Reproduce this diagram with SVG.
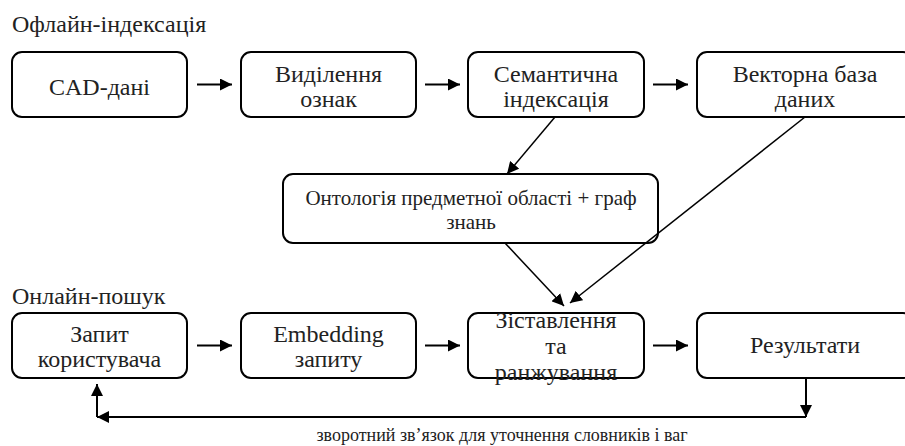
<svg xmlns="http://www.w3.org/2000/svg" width="905" height="446" viewBox="0 0 905 446">
<style>
  .box { fill: #fff; stroke: #000; stroke-width: 2; }
  .t { font-family: "Liberation Serif", "Times New Roman", serif; font-size: 24px; fill: #222; text-anchor: middle; }
  .h { font-family: "Liberation Serif", "Times New Roman", serif; font-size: 24px; fill: #222; }
  .o { font-family: "Liberation Serif", "Times New Roman", serif; font-size: 21px; fill: #222; text-anchor: middle; }
  .lbl { font-family: "Liberation Serif", "Times New Roman", serif; font-size: 18px; fill: #222; text-anchor: middle; }
  .c { stroke: #000; stroke-width: 2; fill: none; marker-end: url(#ah); }
  .d { stroke: #000; stroke-width: 1.5; fill: none; marker-end: url(#ah); }
</style>
<defs>
  <marker id="ah" viewBox="0 0 12 12" refX="12" refY="6" markerWidth="12" markerHeight="12" markerUnits="userSpaceOnUse" orient="auto">
    <path d="M0,0 L12,6 L0,12 Z" fill="#000"/>
  </marker>
</defs>
<rect width="905" height="446" fill="#fff"/>
<text class="h" x="12" y="32">Офлайн-індексація</text>
<text class="h" x="12" y="304">Онлайн-пошук</text>

<g id="cad">
  <rect class="box" x="12" y="52" width="175" height="65" rx="10"/>
  <text class="t" x="99.5" y="95">CAD-дані</text>
</g>
<g id="features">
  <rect class="box" x="241" y="52" width="175" height="65" rx="10"/>
  <text class="t" x="328.5" y="82">Виділення</text>
  <text class="t" x="328.5" y="107">ознак</text>
</g>
<g id="semantic">
  <rect class="box" x="468" y="52" width="176" height="65" rx="10"/>
  <text class="t" x="556" y="82">Семантична</text>
  <text class="t" x="556" y="107">індексація</text>
</g>
<g id="vectordb">
  <rect class="box" x="697" y="52" width="216" height="65" rx="10"/>
  <text class="t" x="805" y="82">Векторна база</text>
  <text class="t" x="805" y="107">даних</text>
</g>
<g id="ontology">
  <rect class="box" x="283" y="174" width="375" height="69" rx="10"/>
  <text class="o" x="471" y="205">Онтологія предметної області + граф</text>
  <text class="o" x="471" y="229">знань</text>
</g>
<g id="query">
  <rect class="box" x="12" y="313" width="175" height="65" rx="10"/>
  <text class="t" x="99.5" y="342">Запит</text>
  <text class="t" x="99.5" y="367">користувача</text>
</g>
<g id="embedding">
  <rect class="box" x="241" y="313" width="175" height="65" rx="10"/>
  <text class="t" x="328.5" y="342">Embedding</text>
  <text class="t" x="328.5" y="367">запиту</text>
</g>
<g id="ranking">
  <rect class="box" x="468" y="313" width="176" height="65" rx="10"/>
  <text class="t" x="556" y="328">Зіставлення</text>
  <text class="t" x="556" y="354">та</text>
  <text class="t" x="556" y="380">ранжування</text>
</g>
<g id="results">
  <rect class="box" x="697" y="313" width="216" height="65" rx="10"/>
  <text class="t" x="805" y="353">Результати</text>
</g>

<g id="connectors">
  <line class="c" x1="197" y1="84.5" x2="232" y2="84.5"/>
  <line class="c" x1="425" y1="84.5" x2="460" y2="84.5"/>
  <line class="c" x1="653" y1="84.5" x2="688" y2="84.5"/>
  <line class="d" x1="555" y1="117" x2="507" y2="174"/>
  <line class="d" x1="805" y1="117" x2="570" y2="303"/>
  <line class="d" x1="505" y1="243" x2="564" y2="306"/>
  <line class="c" x1="197" y1="345.5" x2="232" y2="345.5"/>
  <line class="c" x1="425" y1="345.5" x2="460" y2="345.5"/>
  <line class="c" x1="653" y1="345.5" x2="688" y2="345.5"/>
  <line class="c" x1="806" y1="378" x2="806" y2="417"/>
  <line class="c" x1="806" y1="417" x2="97" y2="417"/>
  <line class="c" x1="97" y1="417" x2="97" y2="384"/>
  <text class="lbl" x="502" y="441">зворотний зв’язок для уточнення словників і ваг</text>
</g>
</svg>
